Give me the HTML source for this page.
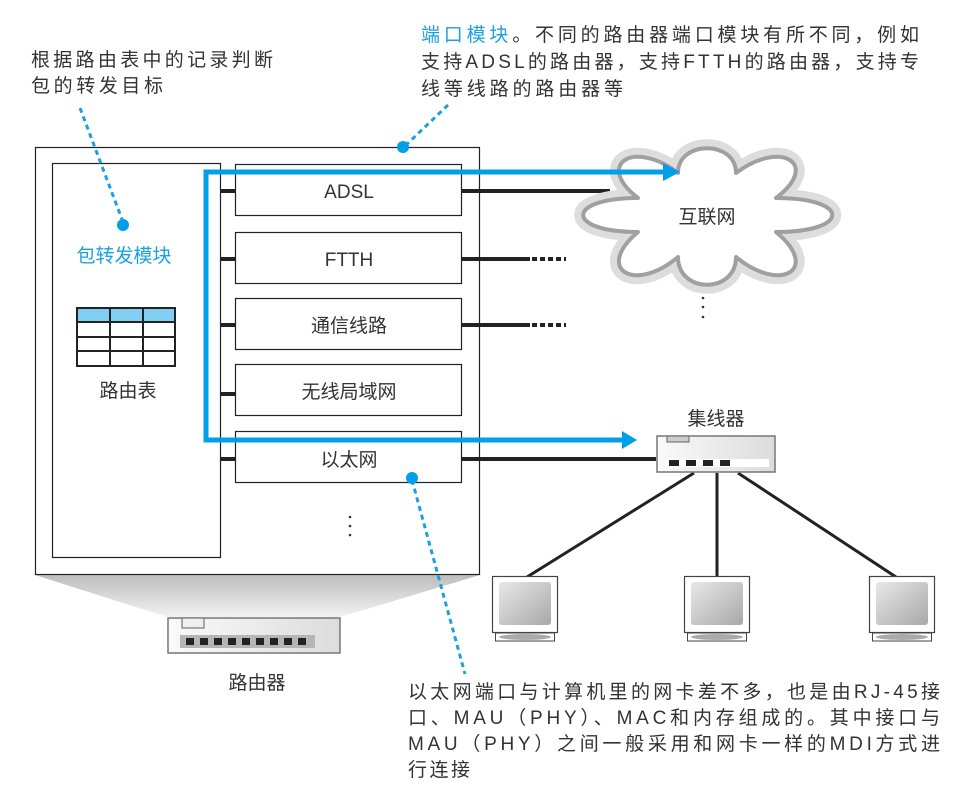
<!DOCTYPE html>
<html><head><meta charset="utf-8"><style>
html,body{margin:0;padding:0;background:#fff;}
svg{display:block;font-family:"Liberation Sans","Noto Sans CJK SC",sans-serif;}
</style></head><body>
<svg width="980" height="795" viewBox="0 0 980 795" xmlns="http://www.w3.org/2000/svg">
<defs>
<linearGradient id="sh" x1="0" y1="0" x2="0" y2="1"><stop offset="0" stop-color="#bdbdbd"/><stop offset="1" stop-color="#f2f2f2"/></linearGradient>
<linearGradient id="dev" x1="0" y1="0" x2="1" y2="0"><stop offset="0" stop-color="#fafafa"/><stop offset="1" stop-color="#dcdcdc"/></linearGradient>
<linearGradient id="scr" x1="0" y1="0" x2="1" y2="1"><stop offset="0" stop-color="#e8e8e8"/><stop offset="1" stop-color="#a8a8a8"/></linearGradient>
<path id="cp" d="M678,173 C678,140 736,140 736,173 C781,139 821,164 776,198 C851,198 851,232 776,232 C821,269 781,294 736,257 C736,294 678,294 678,257 C634,294 594,269 638,232 C565,232 565,198 638,198 C594,164 634,139 678,173 Z"/>
</defs>
<!-- top texts -->
<g font-size="19" fill="#333">
<text x="31" y="66" textLength="242">根据路由表中的记录判断</text>
<text x="31" y="92" textLength="132">包的转发目标</text>
<text x="421" y="41" textLength="498"><tspan fill="#1ba1e2">端口模块</tspan>。不同的路由器端口模块有所不同，例如</text>
<text x="421" y="68" textLength="498">支持ADSL的路由器，支持FTTH的路由器，支持专</text>
<text x="421" y="95" textLength="202">线等线路的路由器等</text>
<text x="408" y="698" textLength="532">以太网端口与计算机里的网卡差不多，也是由RJ-45接</text>
<text x="408" y="724" textLength="532">口、MAU（PHY）、MAC和内存组成的。其中接口与</text>
<text x="408" y="750" textLength="532">MAU（PHY）之间一般采用和网卡一样的MDI方式进</text>
<text x="408" y="776" textLength="62">行连接</text>
</g>
<!-- shadow -->
<polygon points="35,575 480,575 340,617 167,617" fill="url(#sh)"/>
<!-- outer box -->
<rect x="35.5" y="147.5" width="444" height="427" fill="#fff" stroke="#222" stroke-width="1.2"/>
<rect x="52.5" y="163.5" width="168" height="394" fill="#fff" stroke="#222" stroke-width="1.2"/>
<text x="124" y="262" font-size="19" fill="#1ba1e2" text-anchor="middle">包转发模块</text>
<!-- table -->
<rect x="77" y="308" width="98" height="14" fill="#80cff0"/>
<g stroke="#222" stroke-width="2" fill="none">
<rect x="77" y="308" width="98" height="58"/>
<line x1="77" y1="322" x2="175" y2="322"/><line x1="77" y1="337" x2="175" y2="337"/><line x1="77" y1="351" x2="175" y2="351"/>
<line x1="110" y1="308" x2="110" y2="366"/><line x1="143" y1="308" x2="143" y2="366"/>
</g>
<text x="128" y="397" font-size="19" fill="#333" text-anchor="middle">路由表</text>
<!-- ports -->
<g fill="#fff" stroke="#222" stroke-width="1.2">
<rect x="235.5" y="164.5" width="226" height="51"/>
<rect x="235.5" y="232.5" width="226" height="51"/>
<rect x="235.5" y="298.5" width="226" height="51"/>
<rect x="235.5" y="364.5" width="226" height="51"/>
<rect x="235.5" y="431.5" width="226" height="51"/>
</g>
<g stroke="#222" stroke-width="4">
<line x1="221" y1="191" x2="235" y2="191"/><line x1="221" y1="259" x2="235" y2="259"/>
<line x1="221" y1="325" x2="235" y2="325"/><line x1="221" y1="394" x2="235" y2="394"/>
<line x1="221" y1="459" x2="235" y2="459"/>
<line x1="462" y1="191" x2="610" y2="191"/>
<line x1="462" y1="259" x2="530" y2="259"/><line x1="462" y1="325" x2="530" y2="325"/>
<line x1="462" y1="459" x2="656" y2="459"/>
</g>
<g stroke="#222" stroke-width="4" stroke-dasharray="5,3">
<line x1="532" y1="259" x2="566" y2="259"/><line x1="532" y1="325" x2="566" y2="325"/>
</g>
<g font-size="19" fill="#333" text-anchor="middle">
<text x="349" y="198">ADSL</text><text x="349" y="266">FTTH</text>
<text x="349" y="332">通信线路</text><text x="349" y="398">无线局域网</text>
<text x="349" y="466">以太网</text>
</g>
<g fill="#333"><circle cx="350" cy="517" r="1.3"/><circle cx="350" cy="526" r="1.3"/><circle cx="350" cy="535" r="1.3"/>
<circle cx="703" cy="298" r="1.3"/><circle cx="703" cy="307" r="1.3"/><circle cx="703" cy="317" r="1.3"/></g>
<!-- cloud -->
<use href="#cp" fill="#ddd" stroke="#ddd" stroke-width="18" stroke-linejoin="round"/>
<use href="#cp" fill="#fff" stroke="#a0a0a0" stroke-width="4" stroke-linejoin="round"/>
<text x="707" y="223" font-size="19" fill="#333" text-anchor="middle">互联网</text>
<!-- blue path -->
<polyline points="664,172 206,172 206,440 624,440" fill="none" stroke="#009fe8" stroke-width="5"/>
<polygon points="663,163 680,172 663,181" fill="#009fe8"/>
<polygon points="622,431 637,440 622,449" fill="#009fe8"/>
<!-- hub -->
<text x="716" y="425" font-size="19" fill="#333" text-anchor="middle">集线器</text>
<g stroke="#222" stroke-width="3">
<line x1="694" y1="473" x2="527" y2="577"/><line x1="717" y1="473" x2="717" y2="577"/><line x1="738" y1="473" x2="896" y2="577"/>
</g>
<rect x="657" y="436" width="118" height="36" fill="url(#dev)" stroke="#777" stroke-width="1.5"/>
<rect x="667" y="436" width="22" height="6" fill="#ccc" stroke="#777" stroke-width="1.2"/>
<rect x="665" y="459" width="104" height="8" fill="#fff"/>
<g fill="#222"><rect x="669" y="460" width="10" height="6"/><rect x="686" y="460" width="10" height="6"/><rect x="703" y="460" width="10" height="6"/><rect x="720" y="460" width="10" height="6"/></g>
<!-- monitors -->
<g id="m" transform="translate(492,576)">
<rect x="0.5" y="0.5" width="65" height="56" fill="#fff" stroke="#444" stroke-width="1.2"/>
<rect x="7" y="6" width="52" height="43" rx="3" fill="url(#scr)"/>
<rect x="3.5" y="57" width="59" height="8" fill="#fff" stroke="#444" stroke-width="1"/>
<ellipse cx="33" cy="61" rx="26" ry="3" fill="#aaa"/>
</g>
<use href="#m" x="192" y="0"/>
<use href="#m" x="377" y="0"/>
<!-- router device -->
<rect x="168" y="618" width="172" height="35" fill="url(#dev)" stroke="#777" stroke-width="1.5"/>
<rect x="182" y="618" width="22" height="10" fill="#eee" stroke="#777" stroke-width="1.2"/>
<rect x="180" y="635" width="135" height="13" fill="#b5b5b5"/>
<g fill="#222">
<rect x="186" y="638" width="8" height="7"/><rect x="200" y="638" width="8" height="7"/><rect x="214" y="638" width="8" height="7"/><rect x="228" y="638" width="8" height="7"/><rect x="242" y="638" width="8" height="7"/><rect x="256" y="638" width="8" height="7"/><rect x="270" y="638" width="8" height="7"/><rect x="284" y="638" width="8" height="7"/><rect x="298" y="638" width="8" height="7"/></g>
<text x="257" y="689" font-size="19" fill="#333" text-anchor="middle">路由器</text>
<!-- leaders -->
<g stroke="#1ba1e2" stroke-width="3" stroke-dasharray="5,4" fill="none">
<line x1="80" y1="108" x2="123" y2="222"/>
<line x1="448" y1="105" x2="405" y2="146"/>
<line x1="412" y1="480" x2="465" y2="674"/>
</g>
<g fill="#009fe8"><circle cx="123" cy="225" r="6"/><circle cx="403" cy="147" r="6"/><circle cx="412" cy="478" r="6"/></g>
</svg>
</body></html>
